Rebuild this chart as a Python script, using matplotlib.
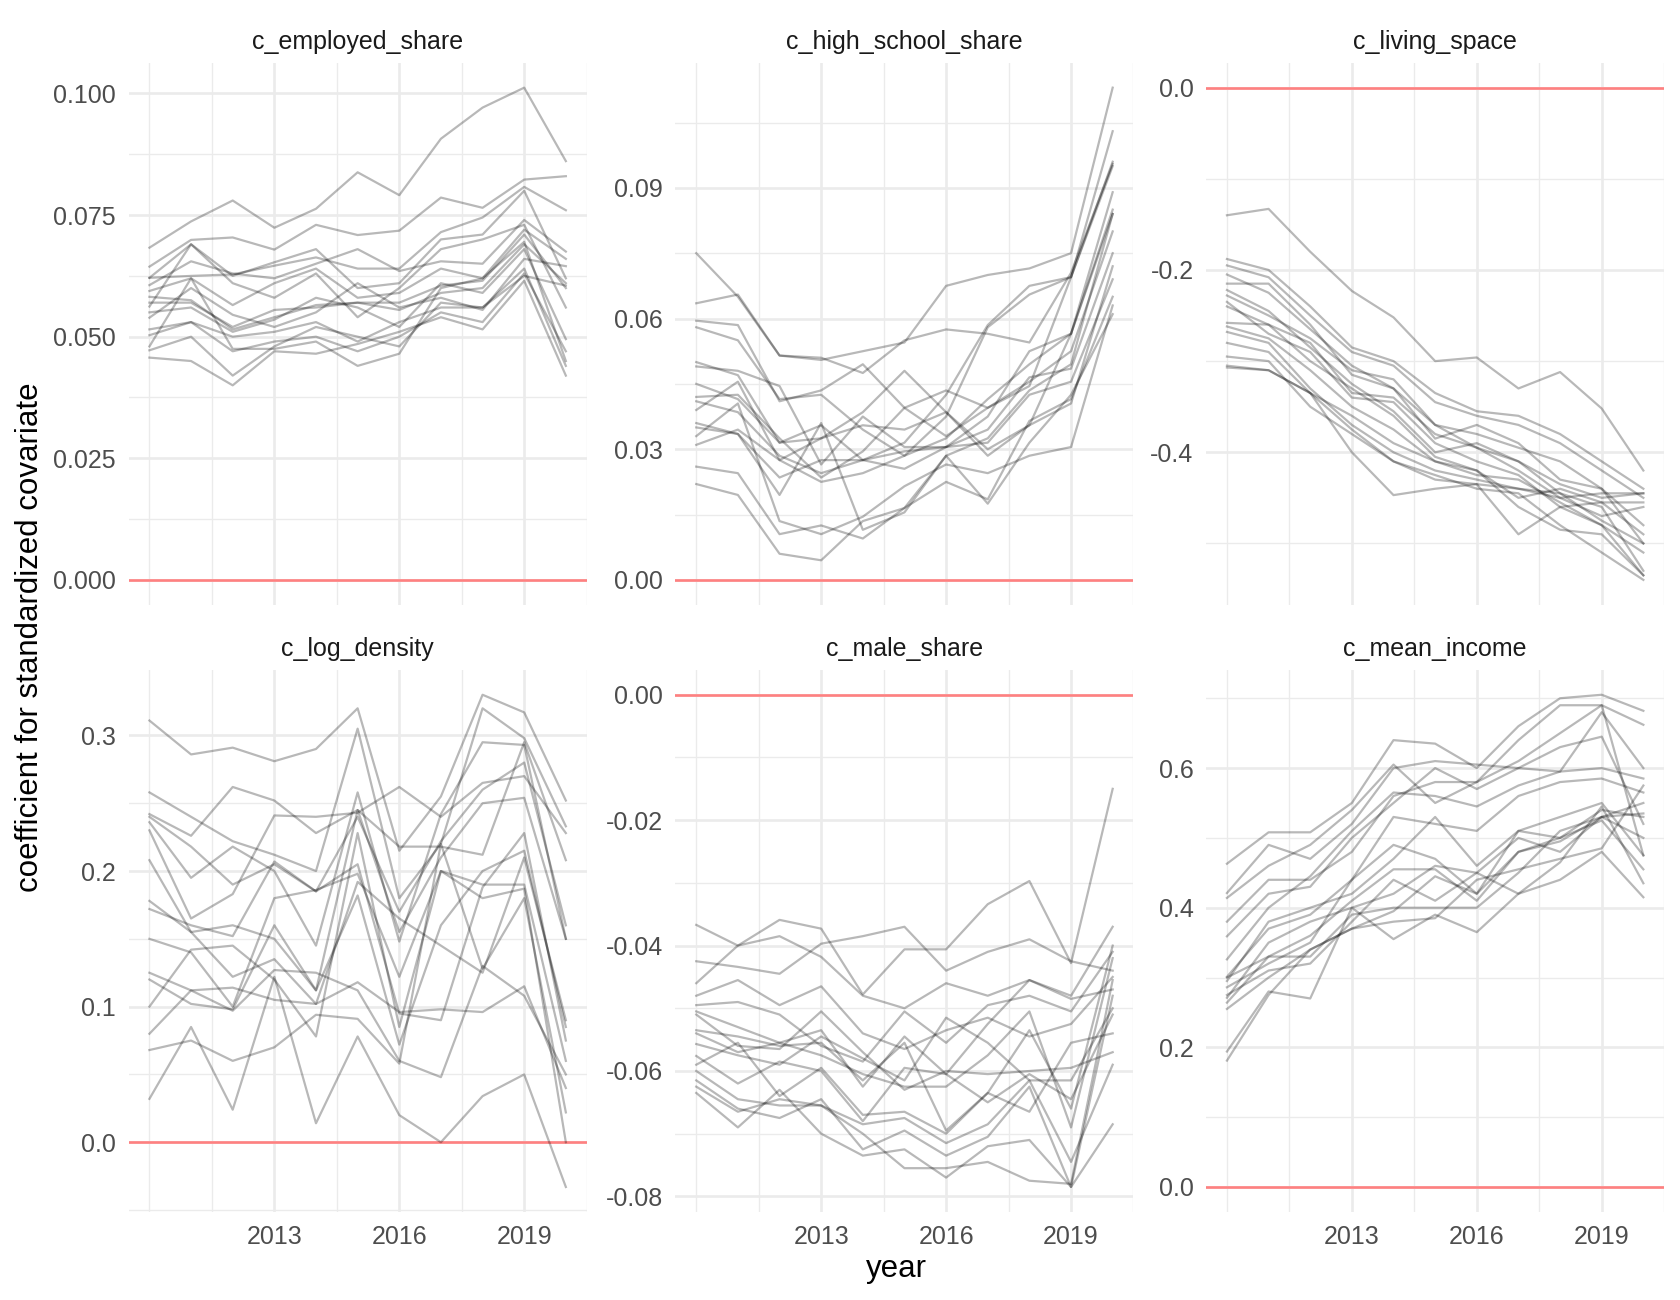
import numpy as np
import matplotlib
matplotlib.use("Agg")
import matplotlib.pyplot as plt
from matplotlib.ticker import FixedLocator, FuncFormatter

plt.rcParams["font.family"] = ["Liberation Sans", "DejaVu Sans"]
plt.rcParams["axes.unicode_minus"] = False

years = [2010, 2011, 2012, 2013, 2014, 2015, 2016, 2017, 2018, 2019, 2020]

employed_share = [
    [.0683, .0737, .0780, .0724, .0763, .0838, .0791, .0907, .0971, .1012, .0861],
    [.0644, .0699, .0704, .0679, .0730, .0709, .0718, .0786, .0765, .0823, .0830],
    [.0621, .0625, .0628, .0646, .0663, .0640, .0640, .0715, .0745, .0808, .0760],
    [.0621, .0690, .0625, .0653, .0680, .0600, .0610, .0700, .0710, .0800, .0620],
    [.0606, .0655, .0630, .0620, .0650, .0680, .0635, .0655, .0650, .0740, .0675],
    [.0594, .0620, .0565, .0610, .0640, .0580, .0590, .0640, .0620, .0720, .0660],
    [.0582, .0575, .0515, .0540, .0565, .0570, .0555, .0590, .0600, .0690, .0610],
    [.0570, .0570, .0520, .0555, .0560, .0570, .0570, .0605, .0615, .0710, .0600],
    [.0562, .0690, .0610, .0580, .0630, .0540, .0600, .0680, .0700, .0730, .0560],
    [.0550, .0560, .0510, .0535, .0580, .0560, .0520, .0610, .0590, .0680, .0495],
    [.0539, .0600, .0545, .0520, .0550, .0610, .0560, .0580, .0555, .0660, .0645],
    [.0515, .0530, .0500, .0510, .0530, .0490, .0530, .0560, .0560, .0625, .0605],
    [.0503, .0530, .0470, .0490, .0500, .0470, .0500, .0550, .0530, .0630, .0470],
    [.0480, .0620, .0475, .0475, .0490, .0440, .0465, .0600, .0620, .0695, .0450],
    [.0472, .0500, .0420, .0480, .0520, .0500, .0480, .0570, .0560, .0640, .0440],
    [.0457, .0450, .0400, .0470, .0465, .0485, .0510, .0540, .0515, .0615, .0420],
]

high_school_share = [
    [.075, .065, .0515, .051, .0475, .055, .0575, .0565, .0545, .0705, .0955],
    [.0635, .0655, .0515, .0505, .0525, .0545, .0675, .070, .0715, .075, .113],
    [.0595, .0585, .041, .0435, .0495, .0395, .033, .0395, .0445, .0695, .103],
    [.058, .055, .0415, .0425, .0345, .0285, .0375, .058, .0655, .0695, .096],
    [.050, .047, .0315, .0325, .0385, .048, .0385, .030, .0355, .0565, .084],
    [.049, .048, .0445, .0265, .0375, .0305, .0305, .0375, .0525, .0565, .089],
    [.045, .0415, .0315, .0355, .0275, .0315, .0425, .0585, .0675, .0695, .095],
    [.042, .0425, .0325, .0235, .0295, .0395, .0435, .0395, .0455, .0525, .080],
    [.041, .0385, .0285, .0245, .0275, .0295, .0305, .0345, .0465, .0485, .075],
    [.039, .0455, .0275, .0225, .0245, .0285, .0325, .0415, .0495, .0565, .085],
    [.036, .0335, .0195, .036, .0115, .0155, .0285, .0325, .0435, .0495, .084],
    [.035, .0335, .0235, .0275, .0275, .0255, .0305, .0315, .0425, .0455, .069],
    [.033, .0405, .0135, .0105, .0145, .0215, .0265, .0245, .0285, .0305, .063],
    [.031, .0345, .0275, .0325, .0355, .0345, .0385, .0285, .0355, .0405, .072],
    [.026, .0245, .0105, .0125, .0095, .0165, .0225, .0185, .0365, .0415, .065],
    [.022, .0195, .006, .0045, .0135, .0165, .0285, .0175, .0315, .0425, .061],
]

living_space = [
    [-.140, -.133, -.180, -.223, -.252, -.300, -.296, -.330, -.312, -.352, -.420],
    [-.188, -.200, -.240, -.285, -.300, -.335, -.355, -.360, -.380, -.410, -.440],
    [-.195, -.208, -.250, -.290, -.305, -.345, -.360, -.370, -.390, -.420, -.450],
    [-.205, -.225, -.265, -.305, -.330, -.370, -.380, -.395, -.410, -.440, -.480],
    [-.215, -.215, -.260, -.315, -.330, -.385, -.370, -.390, -.430, -.440, -.500],
    [-.222, -.245, -.285, -.325, -.355, -.400, -.390, -.410, -.445, -.460, -.530],
    [-.228, -.250, -.275, -.310, -.320, -.370, -.395, -.420, -.450, -.470, -.460],
    [-.235, -.270, -.290, -.340, -.345, -.390, -.410, -.425, -.460, -.480, -.535],
    [-.240, -.260, -.300, -.330, -.360, -.405, -.420, -.450, -.440, -.455, -.490],
    [-.258, -.260, -.280, -.335, -.340, -.380, -.395, -.410, -.435, -.450, -.445],
    [-.262, -.275, -.310, -.350, -.375, -.410, -.425, -.430, -.455, -.480, -.510],
    [-.268, -.280, -.330, -.370, -.400, -.420, -.430, -.440, -.445, -.475, -.500],
    [-.280, -.290, -.335, -.375, -.410, -.430, -.435, -.490, -.460, -.455, -.455],
    [-.295, -.300, -.350, -.380, -.410, -.425, -.440, -.445, -.480, -.510, -.540],
    [-.305, -.310, -.335, -.400, -.447, -.440, -.435, -.440, -.450, -.445, -.445],
    [-.307, -.310, -.335, -.360, -.390, -.410, -.420, -.460, -.485, -.490, -.535],
]

log_density = [
    [.311, .286, .291, .281, .290, .320, .215, .255, .330, .317, .252],
    [.258, .240, .222, .212, .200, .305, .180, .220, .320, .298, .233],
    [.242, .226, .262, .252, .228, .245, .218, .218, .212, .295, .208],
    [.240, .218, .190, .205, .185, .240, .170, .222, .260, .280, .160],
    [.236, .195, .218, .200, .145, .258, .148, .242, .295, .293, .150],
    [.230, .165, .183, .241, .240, .243, .262, .240, .265, .270, .228],
    [.208, .155, .160, .150, .112, .245, .155, .210, .250, .254, .150],
    [.178, .155, .122, .135, .102, .192, .165, .145, .125, .210, .090],
    [.172, .160, .152, .207, .185, .205, .095, .090, .188, .228, .075],
    [.150, .140, .100, .180, .186, .198, .122, .200, .190, .190, .060],
    [.125, .112, .114, .105, .102, .118, .096, .098, .096, .115, .040],
    [.120, .102, .098, .160, .112, .182, .072, .160, .200, .215, .085],
    [.100, .142, .145, .120, .078, .228, .085, .200, .180, .187, .000],
    [.080, .112, .097, .127, .125, .112, .060, .048, .130, .108, .050],
    [.068, .075, .060, .070, .094, .091, .058, .220, .128, .180, .022],
    [.032, .085, .024, .122, .014, .078, .020, .000, .034, .050, -.033],
]

male_share = [
    [-.0367, -.0400, -.0359, -.0373, -.0478, -.0406, -.0406, -.0334, -.0297, -.0428, -.0150],
    [-.0425, -.0434, -.0445, -.0397, -.0385, -.0370, -.0440, -.0410, -.0390, -.0425, -.0440],
    [-.0460, -.0400, -.0385, -.0418, -.0480, -.0500, -.0460, -.0480, -.0455, -.0480, -.0370],
    [-.0480, -.0455, -.0495, -.0465, -.0540, -.0565, -.0535, -.0515, -.0545, -.0525, -.0450],
    [-.0495, -.0490, -.0510, -.0560, -.0585, -.0505, -.0555, -.0495, -.0480, -.0505, -.0410],
    [-.0505, -.0530, -.0555, -.0535, -.0625, -.0545, -.0605, -.0525, -.0455, -.0485, -.0470],
    [-.0510, -.0560, -.0565, -.0505, -.0570, -.0630, -.0600, -.0605, -.0600, -.0595, -.0570],
    [-.0535, -.0545, -.0560, -.0555, -.0615, -.0555, -.0695, -.0635, -.0535, -.0660, -.0400],
    [-.0540, -.0570, -.0555, -.0575, -.0605, -.0625, -.0625, -.0575, -.0505, -.0690, -.0420],
    [-.0557, -.0575, -.0590, -.0545, -.0580, -.0615, -.0515, -.0555, -.0615, -.0615, -.0500],
    [-.0576, -.0620, -.0585, -.0600, -.0680, -.0595, -.0605, -.0650, -.0605, -.0645, -.0510],
    [-.0590, -.0555, -.0640, -.0595, -.0670, -.0665, -.0700, -.0635, -.0665, -.0555, -.0540],
    [-.0600, -.0645, -.0655, -.0655, -.0685, -.0675, -.0715, -.0685, -.0615, -.0745, -.0590],
    [-.0615, -.0660, -.0675, -.0645, -.0725, -.0695, -.0735, -.0705, -.0625, -.0785, -.0685],
    [-.0625, -.0665, -.0645, -.0655, -.0700, -.0755, -.0755, -.0745, -.0775, -.0780, -.0455],
    [-.0635, -.0690, -.0630, -.0700, -.0735, -.0725, -.0770, -.0720, -.0710, -.0785, -.0480],
]

mean_income = [
    [.463, .508, .508, .550, .640, .635, .600, .660, .700, .705, .682],
    [.421, .490, .470, .520, .600, .610, .605, .600, .595, .680, .600],
    [.414, .460, .490, .540, .605, .550, .580, .640, .690, .690, .662],
    [.380, .440, .440, .480, .560, .580, .580, .610, .650, .690, .475],
    [.359, .420, .430, .500, .550, .600, .570, .600, .630, .645, .520],
    [.326, .400, .445, .510, .565, .560, .545, .575, .595, .600, .585],
    [.301, .370, .390, .440, .530, .520, .510, .560, .580, .585, .565],
    [.295, .380, .400, .420, .470, .530, .460, .510, .530, .550, .475],
    [.286, .320, .350, .440, .490, .470, .420, .510, .500, .540, .530],
    [.271, .350, .380, .400, .420, .460, .450, .500, .480, .530, .500],
    [.264, .330, .360, .410, .455, .455, .410, .480, .495, .530, .550],
    [.255, .300, .340, .370, .395, .445, .420, .480, .500, .525, .455],
    [.300, .330, .330, .390, .400, .400, .400, .450, .510, .530, .535],
    [.275, .310, .320, .380, .440, .410, .450, .420, .440, .480, .415],
    [.194, .280, .270, .400, .355, .390, .365, .420, .465, .545, .435],
    [.181, .275, .340, .370, .380, .385, .440, .455, .470, .485, .575],
]

panel_titles = ["c_employed_share", "c_high_school_share", "c_living_space",
                "c_log_density", "c_male_share", "c_mean_income"]
panel_data = [employed_share, high_school_share, living_space,
              log_density, male_share, mean_income]
# major y breaks and label decimals per facet
y_breaks = [
    ([0.0, 0.025, 0.05, 0.075, 0.1], 3),
    ([0.0, 0.03, 0.06, 0.09], 2),
    ([-0.4, -0.2, 0.0], 1),
    ([0.0, 0.1, 0.2, 0.3], 1),
    ([-0.08, -0.06, -0.04, -0.02, 0.0], 2),
    ([0.0, 0.2, 0.4, 0.6], 1),
]
x_breaks = [2013, 2016, 2019]

GRID = "#EBEBEB"
fig = plt.figure(figsize=(16.81, 13), dpi=100)

col_x = [0.0765, 0.4018, 0.7175]
row_y = [0.535, 0.068]
pw, ph = 0.2725, 0.4165

for i, (title, data) in enumerate(zip(panel_titles, panel_data)):
    r, c = divmod(i, 3)
    ax = fig.add_axes([col_x[c], row_y[r], pw, ph])
    arr = np.array(data)

    lo = min(arr.min(), 0.0)
    hi = max(arr.max(), 0.0)
    pad = (hi - lo) * 0.05
    ax.set_ylim(lo - pad, hi + pad)
    ax.set_xlim(2009.5, 2020.5)

    breaks, dec = y_breaks[i]
    step = breaks[1] - breaks[0]
    minor = [b + step / 2 for b in [breaks[0] - step] + breaks]
    ax.yaxis.set_major_locator(FixedLocator(breaks))
    ax.yaxis.set_minor_locator(FixedLocator(minor))
    ax.yaxis.set_major_formatter(FuncFormatter(lambda v, p, d=dec: f"{v:.{d}f}"))

    ax.xaxis.set_major_locator(FixedLocator(x_breaks))
    ax.xaxis.set_minor_locator(FixedLocator([2010, 2011.5, 2014.5, 2017.5, 2020.5]))

    ax.grid(True, which="major", color=GRID, linewidth=1.9)
    ax.grid(True, which="minor", color=GRID, linewidth=0.95)
    ax.set_axisbelow(True)
    for s in ax.spines.values():
        s.set_visible(False)
    ax.tick_params(which="both", length=0, labelsize=18, colors="#4D4D4D")
    ax.tick_params(axis="y", pad=9)
    ax.tick_params(axis="x", pad=10)
    if r == 0:
        ax.tick_params(axis="x", labelbottom=False)

    ax.axhline(0, color="#FF8080", linewidth=1.9, zorder=2)
    for line in data:
        ax.plot(years, line, color="black", alpha=0.28, linewidth=1.6, zorder=3)

    fig.text(col_x[c] + pw / 2, row_y[r] + ph + 0.016, title,
             ha="center", va="center", fontsize=18, color="#1A1A1A")

fig.text(0.0179, 0.51, "coefficient for standardized covariate", rotation=90,
         ha="center", va="center", fontsize=22.5, color="black")
fig.text(0.533, 0.024, "year", ha="center", va="center", fontsize=22.5, color="black")

fig.savefig("out.png", dpi=100, facecolor="white")
